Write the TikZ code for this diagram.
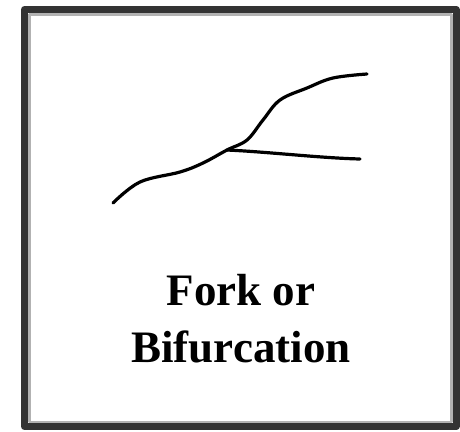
\documentclass[tikz,border=0pt]{standalone}
\usepackage{fontspec}
\setmainfont{Liberation Serif}
\begin{document}
\begin{tikzpicture}[x=1pt, y=-1pt, line join=round, line cap=round]
				\useasboundingbox (0,0) rectangle (460,431);
				\path
				(113,203) coordinate (S)
				(227,150) coordinate (F)
				(367,74) coordinate (U)
				(360,159) coordinate (L);
				% khung
				\draw[black!80, line width=7pt, line cap=butt] (24.5,9.5) rectangle (456,426.5);
				\draw[black!30, line width=2.5pt] (29.5,14.5) rectangle (451.5,422);
				% nhanh chinh
				\draw[line width=3.2pt] plot[smooth, tension=0.6] coordinates
				{(S) (140,182) (180,172) (203,163) (F) (247,140) (263,120) (280,100) (307,88) (333,78) (U)};
				% nhanh phu
				\draw[line width=3.2pt] (F) .. controls (270,152) and (320,158) .. (L);
				\node[font=\bfseries\fontsize{45}{57}\selectfont, align=center, anchor=base, inner sep=0pt] (label) at (241,362) {Fork or\\Bifurcation};
			\end{tikzpicture}
\end{document}
